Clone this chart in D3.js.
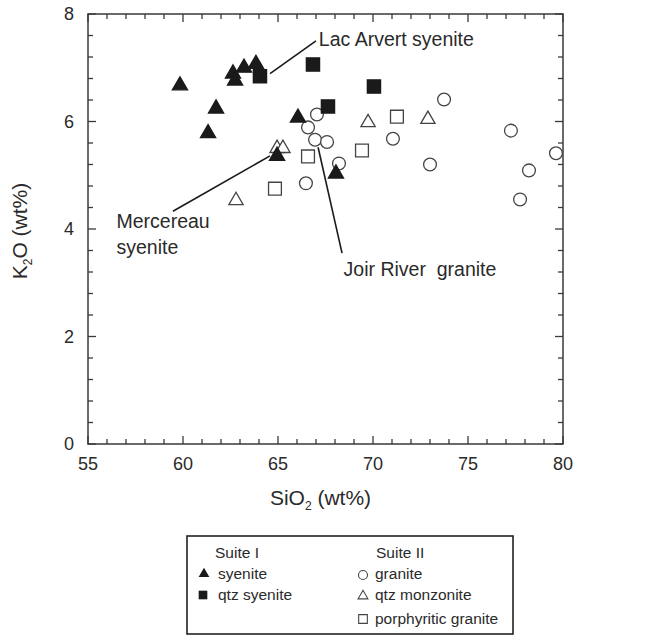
<!DOCTYPE html>
<html>
<head>
<meta charset="utf-8">
<script src="https://cdn.jsdelivr.net/npm/d3@7"></script>
<style>
  body { margin: 0; background: #fff; }
  text { font-family: "Liberation Sans", Arial, sans-serif; fill: #2a2a2a; white-space: pre; }
</style>
</head>
<body>
<svg id="chart" width="653" height="636"></svg>
<script>
// Data: SiO2 (x) vs K2O (y), wt%
const syenite = [[59.84, 6.67], [61.74, 6.24], [61.32, 5.78], [62.63, 6.89], [62.74, 6.76],
  [63.21, 7.00], [63.84, 7.07], [66.05, 6.07], [64.95, 5.36], [68.05, 5.03]];
const qtzSyenite = [[64.05, 6.84], [66.84, 7.06], [70.05, 6.65], [67.63, 6.28]];
const granite = [[67.05, 6.13], [66.58, 5.89], [66.95, 5.66], [67.58, 5.62], [68.21, 5.22],
  [66.47, 4.85], [71.05, 5.68], [73.74, 6.41], [73.00, 5.20], [77.26, 5.83], [79.63, 5.41],
  [78.21, 5.09], [77.74, 4.55]];
const qtzMonzonite = [[62.79, 4.53], [64.95, 5.50], [65.26, 5.50], [69.74, 5.98], [72.89, 6.04]];
const porphyriticGranite = [[64.84, 4.75], [66.58, 5.35], [69.42, 5.46], [71.26, 6.09]];

const xTickLabels = [55, 60, 65, 70, 75, 80];
const yTickLabels = [0, 2, 4, 6, 8];

// Labelled groups: line from a point to the label, in data units
const annotations = [
  { lines: ["Lac Arvert syenite"], from: [64.58, 6.89], to: [67.0, 7.5], text: [67.15, 7.4] },
  { lines: ["Mercereau", "syenite"], from: [64.58, 5.36], to: [59.47, 4.33], text: [56.5, 4.02] },
  { lines: ["Joir River  granite"], from: [67.11, 5.52], to: [68.37, 3.55], text: [68.45, 3.13] }
];

const margin = { left: 88, top: 14, right: 90, bottom: 192 };
const width = 653 - margin.left - margin.right;
const height = 636 - margin.top - margin.bottom;
const ink = "#1a1a1a";
const axisColor = "#3a3a3a";

const svg = d3.select("#chart");
const g = svg.append("g").attr("transform", `translate(${margin.left},${margin.top})`);

const x = d3.scaleLinear().domain([55, 80]).range([0, width]);
const y = d3.scaleLinear().domain([0, 8]).range([height, 0]);

// frame
g.append("rect").attr("width", width).attr("height", height)
  .attr("fill", "none").attr("stroke", axisColor).attr("stroke-width", 1.5);

// inward ticks on all four sides, minor + major
const xMinor = d3.range(55, 80.01, 1);
const yMinor = d3.range(0, 8.01, 0.4);
function tickLen(v, step) { return Math.abs(v / step - Math.round(v / step)) < 1e-6 ? 8 : 5; }

const ticks = g.append("g").attr("stroke", axisColor).attr("stroke-width", 1.3);
xMinor.forEach(v => {
  const L = tickLen(v, 5);
  ticks.append("line").attr("x1", x(v)).attr("x2", x(v)).attr("y1", height).attr("y2", height - L);
  ticks.append("line").attr("x1", x(v)).attr("x2", x(v)).attr("y1", 0).attr("y2", L);
});
yMinor.forEach(v => {
  const L = tickLen(v, 2);
  ticks.append("line").attr("y1", y(v)).attr("y2", y(v)).attr("x1", 0).attr("x2", L);
  ticks.append("line").attr("y1", y(v)).attr("y2", y(v)).attr("x1", width).attr("x2", width - L);
});

g.selectAll("text.xt").data(xTickLabels).enter().append("text")
  .attr("class", "xt").attr("x", d => x(d)).attr("y", height + 26)
  .attr("text-anchor", "middle").style("font-size", "18px").text(d => d);
g.selectAll("text.yt").data(yTickLabels).enter().append("text")
  .attr("class", "yt").attr("x", -14).attr("y", d => y(d) + 6)
  .attr("text-anchor", "end").style("font-size", "18px").text(d => d);

// axis titles with subscript 2
const xt = g.append("text").attr("x", width / 2 - 5).attr("y", height + 61)
  .attr("text-anchor", "middle").style("font-size", "21px");
xt.append("tspan").text("SiO");
xt.append("tspan").attr("dy", 5).style("font-size", "12px").text("2");
xt.append("tspan").attr("dy", -5).text(" (wt%)");

const yt = g.append("text").attr("transform", `translate(-61,${height / 2 + 2}) rotate(-90)`)
  .attr("text-anchor", "middle").style("font-size", "21px");
yt.append("tspan").text("K");
yt.append("tspan").attr("dy", 5).style("font-size", "12px").text("2");
yt.append("tspan").attr("dy", -5).text("O (wt%)");

// annotation leader lines + labels
annotations.forEach(a => {
  g.append("line").attr("x1", x(a.from[0])).attr("y1", y(a.from[1]))
    .attr("x2", x(a.to[0])).attr("y2", y(a.to[1]))
    .attr("stroke", ink).attr("stroke-width", 1.6);
  const t = g.append("text").attr("x", x(a.text[0])).attr("y", y(a.text[1]))
    .style("font-size", "19.5px");
  a.lines.forEach((s, i) => t.append("tspan").attr("x", x(a.text[0])).attr("dy", i ? 26 : 0).text(s));
});

// symbols
const tri = d3.symbol().type(d3.symbolTriangle).size(100);
const triOpen = d3.symbol().type(d3.symbolTriangle).size(88);
const sq = d3.symbol().type(d3.symbolSquare).size(175);
const sqOpen = d3.symbol().type(d3.symbolSquare).size(165);

function plot(data, shape, fill, stroke) {
  g.append("g").selectAll("path").data(data).enter().append("path")
    .attr("d", shape)
    .attr("transform", d => `translate(${x(d[0])},${y(d[1])})`)
    .attr("fill", fill).attr("stroke", stroke).attr("stroke-width", 1.3);
}
g.append("g").selectAll("circle").data(granite).enter().append("circle")
  .attr("cx", d => x(d[0])).attr("cy", d => y(d[1])).attr("r", 6.4)
  .attr("fill", "#fff").attr("stroke", "#444").attr("stroke-width", 1.3);
plot(qtzMonzonite, triOpen, "#fff", "#444");
plot(porphyriticGranite, sqOpen, "#fff", "#444");
plot(syenite, tri, ink, ink);
plot(qtzSyenite, sq, ink, ink);

// legend box
const lg = svg.append("g").attr("transform", "translate(187,536)");
lg.append("rect").attr("width", 326).attr("height", 98)
  .attr("fill", "none").attr("stroke", "#222").attr("stroke-width", 1.6);
const legendText = [
  { x: 28, y: 22, t: "Suite I" },
  { x: 31, y: 43, t: "syenite" },
  { x: 31, y: 64, t: "qtz syenite" },
  { x: 189, y: 22, t: "Suite II" },
  { x: 188, y: 43, t: "granite" },
  { x: 188, y: 64, t: "qtz monzonite" },
  { x: 188, y: 88, t: "porphyritic granite" }
];
lg.selectAll("text").data(legendText).enter().append("text")
  .attr("x", d => d.x).attr("y", d => d.y).style("font-size", "15.5px").text(d => d.t);
lg.append("path").attr("d", d3.symbol().type(d3.symbolTriangle).size(50)).attr("transform", "translate(17,38)").attr("fill", ink);
lg.append("path").attr("d", d3.symbol().type(d3.symbolSquare).size(75)).attr("transform", "translate(16,59)").attr("fill", ink);
lg.append("circle").attr("cx", 176).attr("cy", 39).attr("r", 4.5).attr("fill", "none").attr("stroke", "#444").attr("stroke-width", 1.1);
lg.append("path").attr("d", d3.symbol().type(d3.symbolTriangle).size(42)).attr("transform", "translate(176,60)").attr("fill", "none").attr("stroke", "#444").attr("stroke-width", 1.1);
lg.append("path").attr("d", d3.symbol().type(d3.symbolSquare).size(75)).attr("transform", "translate(176,83)").attr("fill", "none").attr("stroke", "#444").attr("stroke-width", 1.1);
</script>
</body>
</html>
